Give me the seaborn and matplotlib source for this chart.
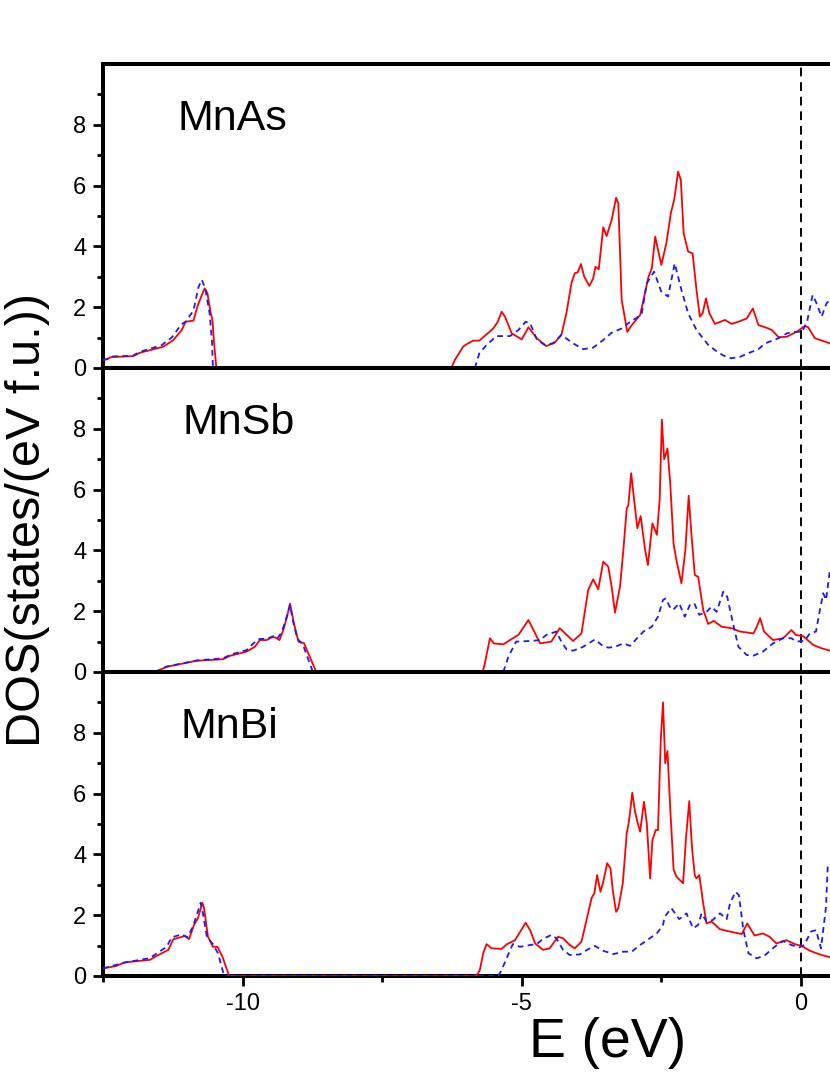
import pandas as pd
import seaborn as sns
import matplotlib.pyplot as plt

sns.set_style("ticks", {"axes.edgecolor": "black", "text.color": "black",
                        "xtick.color": "black", "ytick.color": "black", "axes.labelcolor": "black"})
plt.rcParams['font.family'] = ['Liberation Sans', 'DejaVu Sans']
plt.rcParams['axes.unicode_minus'] = False

# (E, DOS) pairs; "up" = red solid, "dn" = blue dashed
mnas_up_lo = [(-12.5, 0.27), (-12.43, 0.29), (-12.35, 0.36), (-11.96, 0.39), (-11.84, 0.50), (-11.42, 0.70),
              (-11.24, 0.92), (-11.09, 1.25), (-11.02, 1.52), (-10.88, 1.56), (-10.81, 2.02), (-10.73, 2.40),
              (-10.68, 2.62), (-10.63, 2.46), (-10.57, 1.80), (-10.54, 1.58), (-10.51, 0.81), (-10.47, 0.0)]
mnas_dn_lo = [(-12.5, 0.27), (-12.43, 0.29), (-12.35, 0.38), (-11.97, 0.40), (-11.84, 0.53), (-11.45, 0.75),
              (-11.26, 1.02), (-11.10, 1.43), (-11.02, 1.52), (-10.88, 1.89), (-10.79, 2.66), (-10.73, 2.90),
              (-10.67, 2.62), (-10.59, 1.80), (-10.55, 0.92), (-10.53, 0.0)]
mnas_up_hi = [(-6.26, 0.0), (-6.20, 0.26), (-6.05, 0.70), (-5.99, 0.78), (-5.87, 0.90), (-5.76, 0.90), (-5.51, 1.30),
              (-5.43, 1.52), (-5.36, 1.85), (-5.30, 1.69), (-5.18, 1.14), (-5.00, 0.94), (-4.88, 1.34), (-4.73, 0.98),
              (-4.56, 0.72), (-4.41, 0.83), (-4.29, 1.09), (-4.20, 1.80), (-4.11, 2.79), (-4.05, 3.12), (-4.00, 3.14),
              (-3.94, 3.42), (-3.88, 3.00), (-3.79, 2.70), (-3.72, 2.95), (-3.68, 3.33), (-3.62, 3.25), (-3.54, 4.63),
              (-3.48, 4.34), (-3.39, 4.87), (-3.31, 5.60), (-3.27, 5.42), (-3.21, 2.24), (-3.11, 1.19), (-3.03, 1.41),
              (-2.88, 1.74), (-2.73, 3.00), (-2.67, 3.28), (-2.61, 4.32), (-2.50, 3.39), (-2.41, 4.10), (-2.33, 5.09),
              (-2.27, 5.53), (-2.20, 6.46), (-2.15, 6.18), (-2.10, 4.43), (-2.02, 3.83), (-1.94, 3.77), (-1.87, 2.57),
              (-1.81, 1.69), (-1.76, 1.80), (-1.70, 2.29), (-1.64, 1.80), (-1.54, 1.45), (-1.36, 1.58), (-1.24, 1.45),
              (-1.12, 1.52), (-0.97, 1.63), (-0.86, 1.96), (-0.76, 1.41), (-0.64, 1.34), (-0.52, 1.25), (-0.40, 1.01),
              (-0.25, 1.03), (-0.08, 1.19), (0.07, 1.38), (0.13, 1.34), (0.25, 0.98), (0.52, 0.81)]
mnas_dn_hi = [(-5.84, 0.0), (-5.76, 0.48), (-5.63, 0.76), (-5.45, 1.05), (-5.21, 1.05), (-5.06, 1.25), (-4.93, 1.52),
              (-4.85, 1.47), (-4.73, 0.94), (-4.59, 0.76), (-4.44, 0.81), (-4.29, 1.09), (-4.08, 0.81), (-3.90, 0.62),
              (-3.72, 0.67), (-3.54, 0.92), (-3.39, 1.16), (-3.21, 1.30), (-3.06, 1.52), (-2.94, 1.65), (-2.85, 1.80),
              (-2.76, 2.79), (-2.63, 3.17), (-2.50, 2.51), (-2.38, 2.35), (-2.26, 3.44), (-2.14, 2.57), (-2.02, 1.80),
              (-1.87, 1.25), (-1.66, 0.76), (-1.54, 0.59), (-1.40, 0.42), (-1.25, 0.32), (-1.10, 0.36), (-0.95, 0.48),
              (-0.76, 0.62), (-0.64, 0.81), (-0.40, 0.98), (-0.25, 1.14), (-0.14, 1.19), (0.02, 1.19), (0.11, 1.52),
              (0.21, 2.40), (0.28, 2.13), (0.37, 1.69), (0.46, 2.13), (0.52, 2.24)]

mnsb_up_lo = [(-11.57, 0.0), (-11.36, 0.17), (-10.82, 0.37), (-10.35, 0.42), (-10.23, 0.53), (-9.93, 0.67),
              (-9.78, 0.83), (-9.69, 1.05), (-9.57, 1.05), (-9.48, 1.14), (-9.42, 1.14), (-9.34, 1.05), (-9.27, 1.38),
              (-9.20, 1.85), (-9.15, 2.25), (-9.08, 1.60), (-9.00, 1.00), (-8.90, 0.95), (-8.82, 0.60), (-8.68, 0.0)]
mnsb_dn_lo = [(-11.57, 0.0), (-11.36, 0.18), (-10.82, 0.38), (-10.35, 0.45), (-10.20, 0.58), (-9.93, 0.72),
              (-9.80, 0.95), (-9.72, 1.08), (-9.55, 1.10), (-9.45, 1.18), (-9.38, 1.10), (-9.30, 1.30), (-9.22, 1.75),
              (-9.15, 2.20), (-9.10, 1.70), (-9.02, 1.10), (-8.92, 0.90), (-8.85, 0.55), (-8.74, 0.0)]
mnsb_up_hi = [(-5.70, 0.0), (-5.66, 0.29), (-5.57, 1.11), (-5.50, 0.94), (-5.33, 0.91), (-5.21, 1.05), (-5.06, 1.22),
              (-4.88, 1.71), (-4.79, 1.38), (-4.67, 0.94), (-4.47, 1.00), (-4.32, 1.44), (-4.08, 1.02), (-3.93, 1.27),
              (-3.81, 2.70), (-3.72, 3.05), (-3.63, 2.72), (-3.54, 3.63), (-3.45, 3.46), (-3.39, 2.81), (-3.33, 1.95),
              (-3.24, 2.81), (-3.18, 4.01), (-3.12, 5.38), (-3.09, 5.49), (-3.04, 6.54), (-2.99, 5.71), (-2.93, 4.73),
              (-2.87, 5.13), (-2.79, 4.01), (-2.74, 3.52), (-2.66, 4.89), (-2.58, 4.51), (-2.53, 5.66), (-2.49, 8.30),
              (-2.45, 7.00), (-2.39, 7.35), (-2.34, 6.20), (-2.28, 4.20), (-2.23, 3.68), (-2.14, 2.92), (-2.07, 4.00),
              (-2.01, 5.80), (-1.96, 4.50), (-1.90, 3.19), (-1.84, 3.13), (-1.75, 2.04), (-1.66, 1.58), (-1.56, 1.68),
              (-1.42, 1.49), (-1.24, 1.44), (-1.09, 1.33), (-0.85, 1.27), (-0.79, 1.49), (-0.73, 1.77), (-0.66, 1.33),
              (-0.50, 1.05), (-0.32, 1.11), (-0.17, 1.38), (-0.09, 1.22), (0.04, 1.18), (0.22, 0.89), (0.37, 0.78),
              (0.52, 0.70)]
mnsb_dn_hi = [(-5.33, 0.0), (-5.24, 0.50), (-5.10, 1.00), (-4.85, 1.02), (-4.67, 1.05), (-4.56, 1.22), (-4.38, 1.33),
              (-4.29, 1.00), (-4.20, 0.75), (-4.08, 0.70), (-3.90, 0.83), (-3.69, 1.07), (-3.57, 0.89), (-3.45, 0.80),
              (-3.33, 0.83), (-3.18, 0.94), (-3.06, 0.86), (-2.91, 1.16), (-2.82, 1.33), (-2.67, 1.49), (-2.56, 1.82),
              (-2.47, 2.37), (-2.42, 2.42), (-2.35, 2.15), (-2.29, 2.04), (-2.18, 2.26), (-2.08, 1.82), (-1.99, 2.20),
              (-1.91, 2.26), (-1.82, 1.88), (-1.69, 1.98), (-1.60, 2.15), (-1.51, 1.98), (-1.39, 2.64), (-1.32, 2.48),
              (-1.21, 1.55), (-1.12, 0.83), (-0.97, 0.56), (-0.85, 0.54), (-0.68, 0.67), (-0.50, 0.94), (-0.32, 1.11),
              (-0.17, 1.11), (-0.08, 1.00), (0.07, 1.03), (0.16, 1.27), (0.27, 1.33), (0.34, 2.04), (0.40, 2.59),
              (0.45, 2.37), (0.52, 3.36)]

mnbi_up_lo = [(-12.50, 0.25), (-12.26, 0.33), (-12.11, 0.45), (-11.66, 0.53), (-11.54, 0.66), (-11.33, 0.86),
              (-11.24, 1.21), (-11.12, 1.27), (-11.03, 1.32), (-10.96, 1.21), (-10.87, 1.68), (-10.80, 1.90),
              (-10.72, 2.41), (-10.69, 2.23), (-10.62, 1.29), (-10.53, 0.96), (-10.45, 0.96), (-10.36, 0.63),
              (-10.24, 0.0)]
mnbi_dn_lo = [(-12.50, 0.25), (-12.14, 0.43), (-11.66, 0.59), (-11.36, 0.96), (-11.27, 1.27), (-11.09, 1.37),
              (-10.99, 1.27), (-10.89, 1.62), (-10.75, 2.41), (-10.71, 2.06), (-10.64, 1.29), (-10.54, 1.07),
              (-10.44, 0.75), (-10.33, 0.0)]
mnbi_up_hi = [(-5.81, 0.0), (-5.75, 0.20), (-5.69, 0.75), (-5.63, 1.05), (-5.54, 0.91), (-5.36, 0.89), (-5.27, 1.04),
              (-5.12, 1.18), (-5.00, 1.54), (-4.93, 1.75), (-4.85, 1.51), (-4.76, 1.07), (-4.62, 0.86), (-4.50, 0.91),
              (-4.35, 1.29), (-4.26, 1.24), (-4.14, 1.02), (-4.05, 0.91), (-3.93, 1.13), (-3.84, 1.84), (-3.75, 2.56),
              (-3.70, 2.72), (-3.65, 3.32), (-3.59, 2.77), (-3.54, 3.10), (-3.47, 3.71), (-3.41, 3.54), (-3.37, 2.83),
              (-3.31, 2.11), (-3.27, 2.23), (-3.19, 3.05), (-3.12, 4.69), (-3.08, 5.08), (-3.02, 6.03), (-2.97, 5.40),
              (-2.93, 5.08), (-2.88, 4.75), (-2.81, 5.73), (-2.76, 5.02), (-2.70, 3.21), (-2.66, 4.47), (-2.60, 4.80),
              (-2.56, 4.80), (-2.51, 7.76), (-2.47, 9.00), (-2.43, 7.00), (-2.39, 7.40), (-2.34, 5.50), (-2.28, 3.50),
              (-2.23, 3.27), (-2.17, 3.16), (-2.11, 3.05), (-2.06, 4.50), (-2.00, 5.75), (-1.95, 4.20), (-1.90, 3.30),
              (-1.87, 3.21), (-1.82, 3.32), (-1.75, 2.39), (-1.69, 1.73), (-1.60, 1.79), (-1.45, 1.54), (-1.27, 1.46),
              (-1.06, 1.38), (-0.96, 1.73), (-0.83, 1.33), (-0.68, 1.40), (-0.56, 1.29), (-0.44, 1.07), (-0.26, 1.18),
              (-0.11, 1.05), (0.01, 0.99), (0.16, 0.83), (0.37, 0.69), (0.52, 0.62)]
mnbi_dn_hi = [(-5.42, 0.0), (-5.36, 0.20), (-5.26, 0.63), (-5.16, 1.05), (-5.03, 0.96), (-4.85, 1.02), (-4.73, 1.05),
              (-4.62, 1.22), (-4.47, 1.35), (-4.38, 1.24), (-4.26, 0.86), (-4.14, 0.69), (-3.96, 0.71), (-3.81, 0.88),
              (-3.69, 0.99), (-3.54, 0.83), (-3.36, 0.72), (-3.18, 0.80), (-3.03, 0.80), (-2.88, 1.02), (-2.73, 1.21),
              (-2.58, 1.40), (-2.47, 1.68), (-2.44, 1.95), (-2.32, 2.23), (-2.18, 1.87), (-2.05, 2.06), (-1.93, 1.57),
              (-1.84, 1.68), (-1.78, 2.06), (-1.69, 1.79), (-1.58, 1.84), (-1.45, 2.06), (-1.33, 1.87), (-1.27, 2.39),
              (-1.17, 2.77), (-1.11, 2.66), (-1.03, 1.51), (-0.94, 0.75), (-0.79, 0.58), (-0.64, 0.69), (-0.47, 0.96),
              (-0.32, 1.15), (-0.17, 1.02), (-0.03, 0.94), (0.06, 1.02), (0.18, 1.46), (0.27, 1.51), (0.36, 0.91),
              (0.45, 2.28), (0.48, 3.60), (0.52, 3.60)]

materials = ["MnAs", "MnSb", "MnBi"]
label_pos = [(-11.16, 7.83), (-11.08, 7.83), (-11.12, 7.83)]
# MnBi has states drawn along zero between the two bands, others stop
joined = [False, False, True]
up_sets = [(mnas_up_lo, mnas_up_hi), (mnsb_up_lo, mnsb_up_hi), (mnbi_up_lo, mnbi_up_hi)]
dn_sets = [(mnas_dn_lo, mnas_dn_hi), (mnsb_dn_lo, mnsb_dn_hi), (mnbi_dn_lo, mnbi_dn_hi)]
x_major = [-10, -5, 0]
x_minor = [-12.5, -7.5, -2.5]
y_major = [0, 2, 4, 6, 8]
y_minor = [1, 3, 5, 7, 9]


def draw(ax, lo, hi, join, **kws):
    segs = [lo + hi] if join else [lo, hi]
    for seg in segs:
        df = pd.DataFrame(seg, columns=["E", "DOS"])
        sns.lineplot(data=df, x="E", y="DOS", ax=ax, sort=False, estimator=None, **kws)


fig = plt.figure(figsize=(8.3, 10.75), dpi=100)
left = 103 / 830
width = 1010 / 830          # axes run past the right edge of the figure
h = 304 / 1075
bottom = 1 - 976 / 1075

axes = []
for i, name in enumerate(materials):
    ax = fig.add_axes([left, bottom + (2 - i) * h, width, h])
    axes.append(ax)
    draw(ax, *up_sets[i], joined[i], color="#ff0000", lw=1.3, zorder=3)
    draw(ax, *dn_sets[i], joined[i], color="#1a1aff", lw=1.3, linestyle=(0, (3.2, 2.4)), zorder=3)
    ax.axvline(0, color="black", lw=1.4, linestyle=(0, (4.5, 3)), zorder=2)
    ax.text(*label_pos[i], name, fontsize=31, ha="left", va="baseline", color="black")

    ax.set_xlim(-12.5, 5.59)
    ax.set_ylim(0, 10)
    ax.set_xticks(x_major)
    ax.set_xticks(x_minor, minor=True)
    ax.set_yticks(y_major)
    ax.set_yticks(y_minor, minor=True)
    ax.tick_params(which="both", direction="out", width=2, top=False, right=False, color="black")
    ax.tick_params(which="major", length=7, labelsize=17, pad=5, labelcolor="black")
    ax.tick_params(which="minor", length=4.3)
    for s in ax.spines.values():
        s.set_linewidth(2.9)
        s.set_color("black")
    ax.set_xlabel("")
    ax.set_ylabel("")
    if i < 2:
        ax.tick_params(axis="x", labelbottom=False)

axes[2].set_xlabel("E (eV)", fontsize=40, labelpad=2, color="black")
fig.text(0.033, 0.516, "DOS(states/(eV f.u.))", rotation=90, ha="center", va="center",
         fontsize=35, color="black")

fig.savefig("out.png", dpi=100)
